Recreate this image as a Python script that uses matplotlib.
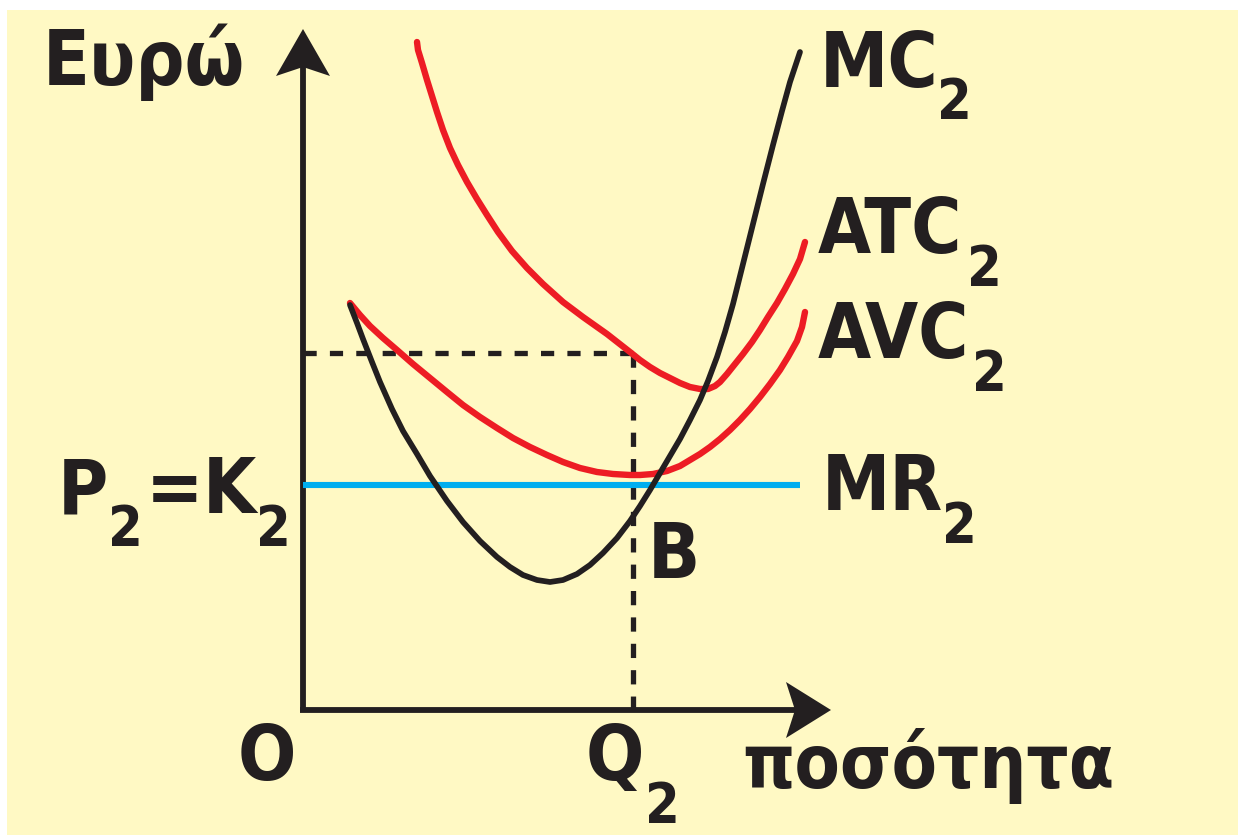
import matplotlib.pyplot as plt
from matplotlib.patches import Polygon, Rectangle

# 1 unit = 10 px, origin O at the axes corner
mc_q = [4.7, 5.4, 6.0, 6.9, 7.7, 8.9, 10.0, 11.4, 12.7, 14.4, 16.0, 17.7, 19.4, 20.7,
        22.0, 23.4, 24.7, 26.0, 27.4, 28.7, 30.0, 31.4, 32.7, 33.7, 34.7, 35.7, 36.7,
        37.7, 38.7, 39.7, 40.5, 41.4, 42.2, 43.0, 44.0, 45.0, 46.0, 47.0, 47.9, 48.7,
        49.7]
mc_e = [40.5, 38.7, 37.1, 34.8, 32.8, 30.1, 27.9, 25.6, 23.4, 20.9, 18.8, 16.9, 15.3,
        14.3, 13.5, 13.0, 12.8, 13.0, 13.6, 14.5, 15.7, 17.2, 18.9, 20.4, 22.0, 23.7,
        25.4, 27.1, 29.0, 31.0, 32.9, 35.3, 37.8, 40.6, 44.6, 48.6, 52.6, 56.5, 59.9,
        62.8, 65.8]

atc_q = [11.4, 11.5, 11.9, 12.4, 12.9, 13.4, 14.0, 14.7, 15.5, 16.4, 17.4, 18.4, 19.5,
         20.9, 22.4, 24.0, 26.0, 28.0, 30.4, 32.7, 33.7, 34.7, 35.7, 36.7, 37.7, 38.7,
         39.7, 40.5, 41.2, 41.7, 42.4, 43.2, 44.0, 44.9, 45.7, 46.5, 47.4, 48.2, 49.0,
         49.7, 50.2]
atc_e = [66.8, 66.0, 64.7, 63.0, 61.4, 59.8, 58.0, 56.2, 54.5, 52.8, 51.1, 49.5, 47.8,
         45.9, 44.2, 42.6, 40.8, 39.3, 37.6, 35.8, 35.0, 34.3, 33.7, 33.2, 32.7, 32.3,
         32.1, 32.1, 32.4, 32.8, 33.6, 34.6, 35.6, 36.8, 38.0, 39.3, 40.7, 42.1, 43.6,
         45.1, 46.8]

avc_q = [4.7, 5.7, 6.7, 8.0, 9.4, 11.0, 12.7, 14.4, 16.0, 17.7, 19.4, 21.0, 22.7, 24.4,
         26.0, 27.7, 29.4, 31.0, 32.7, 33.7, 35.0, 36.4, 37.7, 38.7, 39.7, 40.7, 41.7,
         42.7, 43.7, 44.7, 45.7, 46.7, 47.7, 48.5, 49.4, 49.9, 50.2]
avc_e = [40.7, 39.5, 38.4, 37.2, 36.0, 34.6, 33.2, 31.8, 30.5, 29.3, 28.2, 27.2, 26.3,
         25.5, 24.8, 24.2, 23.8, 23.6, 23.5, 23.5, 23.6, 23.9, 24.4, 25.0, 25.6, 26.3,
         27.1, 28.0, 29.0, 30.1, 31.3, 32.6, 34.0, 35.3, 36.9, 38.3, 39.8]

mr_price = 22.5
mr_q_max = 49.7
q2 = 33.0
atc_at_q2 = 35.7

black = '#231F20'
red = '#ED1C24'
blue = '#00AEEF'
yellow = '#FFF9C4'

W, H = 1238, 835
fig = plt.figure(figsize=(W / 100, H / 100), dpi=100, facecolor='white')
ax = fig.add_axes([0, 0, 1, 1])
ax.set_facecolor('none')
ax.set_xlim(-30.3, 93.5)
ax.set_ylim(-12.5, 71.0)
ax.axis('off')
ax.add_patch(Rectangle((7 / W, 0), 1, 1 - 10 / H, transform=fig.transFigure,
                       facecolor=yellow, edgecolor='none', zorder=0))

# axes with arrow heads
ax.plot([0, 0], [0, 64.5], color=black, lw=4.2, solid_capstyle='butt')
ax.plot([-0.28, 49.5], [0, 0], color=black, lw=4.2, solid_capstyle='butt')
ax.add_patch(Polygon([[0, 68.1], [2.7, 63.4], [0, 64.3], [-2.7, 63.4]],
                     closed=True, color=black, lw=0))
ax.add_patch(Polygon([[52.8, 0], [48.3, 2.8], [49.2, 0], [48.3, -2.8]],
                     closed=True, color=black, lw=0))

# dashed guides
ax.plot([0, q2], [atc_at_q2, atc_at_q2], color=black, lw=3.8,
        dashes=(2.5, 2.5), dash_capstyle='butt')
ax.plot([q2, q2], [atc_at_q2, 0], color=black, lw=3.8,
        dashes=(2.7, 2.3), dash_capstyle='butt')

# curves
ax.plot([0, mr_q_max], [mr_price, mr_price], color=blue, lw=4.4, solid_capstyle='butt')
ax.plot(atc_q, atc_e, color=red, lw=4.6, solid_capstyle='round', solid_joinstyle='round')
ax.plot(avc_q, avc_e, color=red, lw=4.6, solid_capstyle='round', solid_joinstyle='round')
ax.plot(mc_q, mc_e, color=black, lw=4.1, solid_capstyle='round', solid_joinstyle='round')

big = dict(fontsize=55, fontweight='bold', color=black, family='DejaVu Sans',
           fontstretch='condensed', va='baseline', ha='left')
small = dict(big, fontsize=40)


def label(x, y, s, sub=None, sx=None, sy=None, **kw):
    ax.text(x, y, s, **dict(big, **kw))
    if sub is not None:
        ax.text(sx, sy, sub, **small)


label(-26.0, 62.5, 'Ευρώ')
label(51.7, 62.3, 'MC', '2', 63.4, 59.2)
label(51.5, 45.7, 'ATC', '2', 66.4, 42.5)
label(51.5, 35.2, 'AVC', '2', 66.9, 32.0)
label(51.9, 20.0, 'MR', '2', 63.9, 16.8)
label(-24.5, 19.7, 'P', '2', -19.5, 16.5)
label(-15.7, 19.7, '=')
label(-10.0, 19.7, 'K', '2', -4.7, 16.5)
label(34.5, 13.2, 'B')
label(-6.5, -7.0, 'O')
label(28.3, -7.0, 'Q', '2', 34.2, -11.2)
label(43.9, -7.8, 'ποσότητα', fontsize=53)

fig.savefig('out.png', dpi=100, facecolor=fig.get_facecolor())
